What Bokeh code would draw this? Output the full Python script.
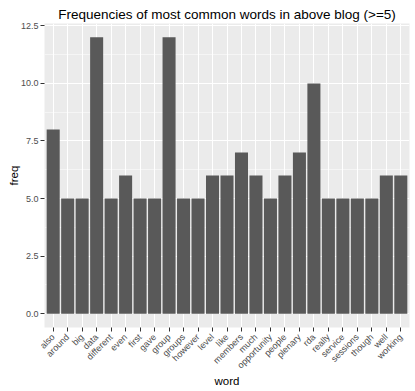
import math
from bokeh.plotting import figure
from bokeh.models import ColumnDataSource, FixedTicker, Range1d
from bokeh.embed import file_html
from bokeh.resources import INLINE

words = ["also", "around", "big", "data", "different", "even", "first", "gave",
         "group", "groups", "however", "level", "like", "members", "much",
         "opportunity", "people", "plenary", "rda", "really", "service",
         "sessions", "though", "well", "working"]
freq = [8, 5, 5, 12, 5, 6, 5, 5, 12, 5, 5, 6, 6, 7, 6, 5, 6, 7, 10, 5, 5, 5, 5, 6, 6]
y_ticks = [0, 2.5, 5, 7.5, 10, 12.5]
y_tick_labels = ["0.0", "2.5", "5.0", "7.5", "10.0", "12.5"]

xs = list(range(1, len(words) + 1))
src = ColumnDataSource(dict(x=xs, top=freq))

FONT = "Liberation Sans"
p = figure(width=415, height=391, output_backend="svg", toolbar_location=None,
           x_range=Range1d(0.4, len(words) + 0.6), y_range=Range1d(-0.6, 12.6),
           min_border_left=44, min_border_right=6, min_border_top=23, min_border_bottom=64)
p.title.text = "Frequencies of most common words in above blog (>=5)"
p.title.align = "center"
p.title.text_font = FONT
p.title.text_font_size = "13.5px"
p.title.text_font_style = "normal"
p.title.text_color = "black"
p.title.standoff = 3
p.outline_line_color = None
p.background_fill_color = "#EBEBEB"
p.border_fill_color = "white"

p.vbar(x="x", top="top", bottom=0, width=0.9, source=src, fill_color="#595959", line_color=None)

p.xaxis.ticker = FixedTicker(ticks=xs)
p.xaxis.major_label_overrides = {i: w for i, w in zip(xs, words)}
p.xaxis.major_label_orientation = math.pi / 4
p.yaxis.ticker = FixedTicker(ticks=y_ticks, minor_ticks=[1.25, 3.75, 6.25, 8.75, 11.25])
p.yaxis.major_label_overrides = {t: l for t, l in zip(y_ticks, y_tick_labels)}

for ax in (p.xaxis, p.yaxis):
    ax.axis_line_color = None
    ax.major_tick_in = 0
    ax.major_tick_out = 4
    ax.minor_tick_in = 0
    ax.minor_tick_out = 0
    ax.major_tick_line_color = "#333333"
    ax.major_label_text_font = FONT
    ax.major_label_text_font_size = "9px"
    ax.major_label_text_color = "#4D4D4D"
    ax.major_label_standoff = 2
    ax.axis_label_text_font = FONT
    ax.axis_label_text_font_size = "11.5px"
    ax.axis_label_text_font_style = "normal"
    ax.axis_label_text_color = "black"
p.xaxis.major_label_standoff = 4
p.xaxis.axis_label = "word"
p.yaxis.axis_label = "freq"
p.yaxis.axis_label_standoff = -2
p.xaxis.axis_label_standoff = -2

p.xgrid.grid_line_color = "white"
p.xgrid.grid_line_width = 1.1
p.ygrid.grid_line_color = "white"
p.ygrid.grid_line_width = 1.1
p.ygrid.minor_grid_line_color = "white"
p.ygrid.minor_grid_line_width = 0.5

open("out.html", "w").write(file_html(p, INLINE))
